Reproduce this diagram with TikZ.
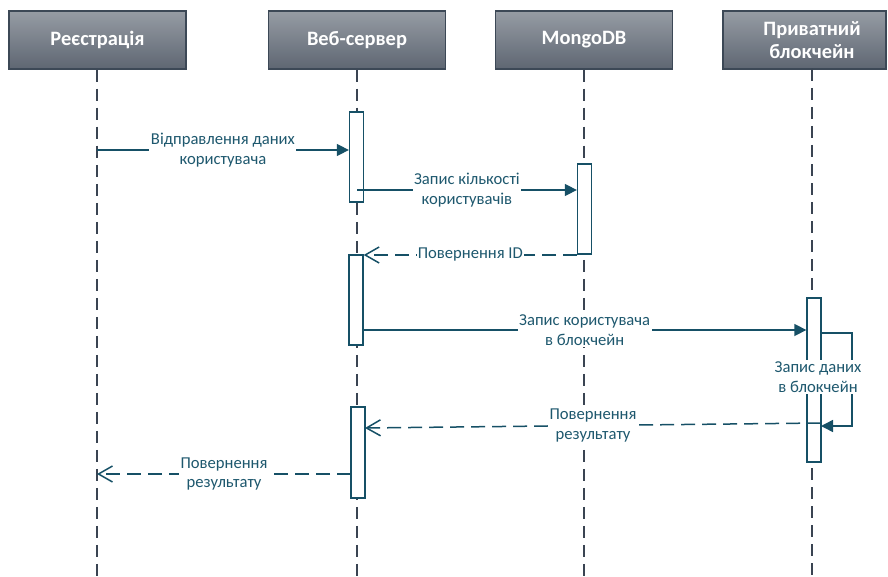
\documentclass[tikz,border=0pt]{standalone}
\usepackage{fontspec}
\setmainfont{Carlito}
\usetikzlibrary{arrows.meta}

\definecolor{msg}{RGB}{22,80,102}
\definecolor{msgtext}{RGB}{30,88,110}
\definecolor{life}{RGB}{58,68,82}
\definecolor{headtop}{RGB}{150,156,164}
\definecolor{headbot}{RGB}{94,102,114}
\definecolor{headline}{RGB}{60,72,86}

\tikzset{
  head/.style={draw=headline, line width=1.5bp, top color=headtop, bottom color=headbot,
    minimum width=177bp, minimum height=58bp, inner sep=0pt, align=center,
    text=white, font=\bfseries\fontsize{20.5}{23}\selectfont},
  lifeline/.style={draw=life, line width=1.3bp, dash pattern=on 12bp off 7bp},
  act/.style={draw=msg, fill=white, line width=1.3bp, minimum width=14bp, inner sep=0pt},
  call/.style={draw=msg, line width=1.5bp, -{Triangle[length=12bp,width=12bp]}},
  reply/.style={draw=msg, line width=1.5bp, dash pattern=on 14bp off 7bp,
    -{Straight Barb[length=14bp,width=16bp,line width=1.5bp]}},
  lbl/.style={fill=white, text=msgtext, align=center, inner sep=1.5bp,
    font=\fontsize{16.7}{19.5}\selectfont},
}

\begin{document}
\begin{tikzpicture}[x=1bp, y=-1bp]
  \useasboundingbox (0,0) rectangle (888,577);

  % participants
  \node[head] (h1) at (97.5,40) {Реєстрація};
  \node[head] (h2) at (357,40) {Веб-сервер};
  \node[head] (h3) at (584,40) {MongoDB};
  \node[head, minimum width=163bp] (h4) at (804.5,40)
    {\hspace*{15bp}Приватний\\\hspace*{15bp}блокчейн};

  % lifelines
  \coordinate (e1) at (97,577);
  \coordinate (e2) at (357,577);
  \coordinate (e3) at (584,577);
  \coordinate (e4) at (812,577);
  \draw[lifeline] (h1.south -| e1) -- (e1);
  \draw[lifeline] (h2.south -| e2) -- (e2);
  \draw[lifeline] (h3.south -| e3) -- (e3);
  \draw[lifeline] (812,69) -- (e4);

  % activation bars
  \node[act, minimum height=90bp] (a1) at (356.5,157) {};
  \node[act, minimum height=90bp] (a2) at (584.5,209) {};
  \node[act, minimum height=90bp] (a3) at (356,300) {};
  \node[act, minimum height=164bp] (a4) at (814,380) {};
  \node[act, minimum height=91bp] (a5) at (358,452.5) {};

  % messages
  \coordinate (m1s) at (97,150);
  \draw[call] (m1s) -- (a1.west |- m1s)
    node[lbl, midway] (t1) {Відправлення даних\\користувача};

  \coordinate (m2s) at (357,190);
  \draw[call] (m2s) -- (a2.west |- m2s)
    node[lbl, midway] (t2) {Запис кількості\\користувачів};

  \coordinate (m3s) at (577,255);
  \draw[reply] (m3s) -- (a3.east |- m3s)
    node[lbl, midway, inner xsep=1bp] (t3) {Повернення ID};

  \coordinate (m4s) at (363,330);
  \draw[call] (m4s) -- (a4.west |- m4s)
    node[lbl, midway] (t4) {Запис користувача\\в блокчейн};

  % self call on the blockchain
  \coordinate (m5s) at (821,333);
  \coordinate (m5e) at (821,426);
  \draw[call] (m5s) -- ++(31,0) |- (m5e);
  \node[lbl] (t5) at (818,377) {Запис даних\\в блокчейн};

  \coordinate (m6s) at (821,423);
  \coordinate (m6e) at (365,428);
  \draw[reply] (m6s) -- (m6e)
    node[lbl, pos=0.5] (t6) {Повернення\\результату};

  \coordinate (m7s) at (351,474);
  \draw[reply] (m7s) -- (e1 |- m7s)
    node[lbl, midway] (t7) {Повернення\\результату};
\end{tikzpicture}
\end{document}
